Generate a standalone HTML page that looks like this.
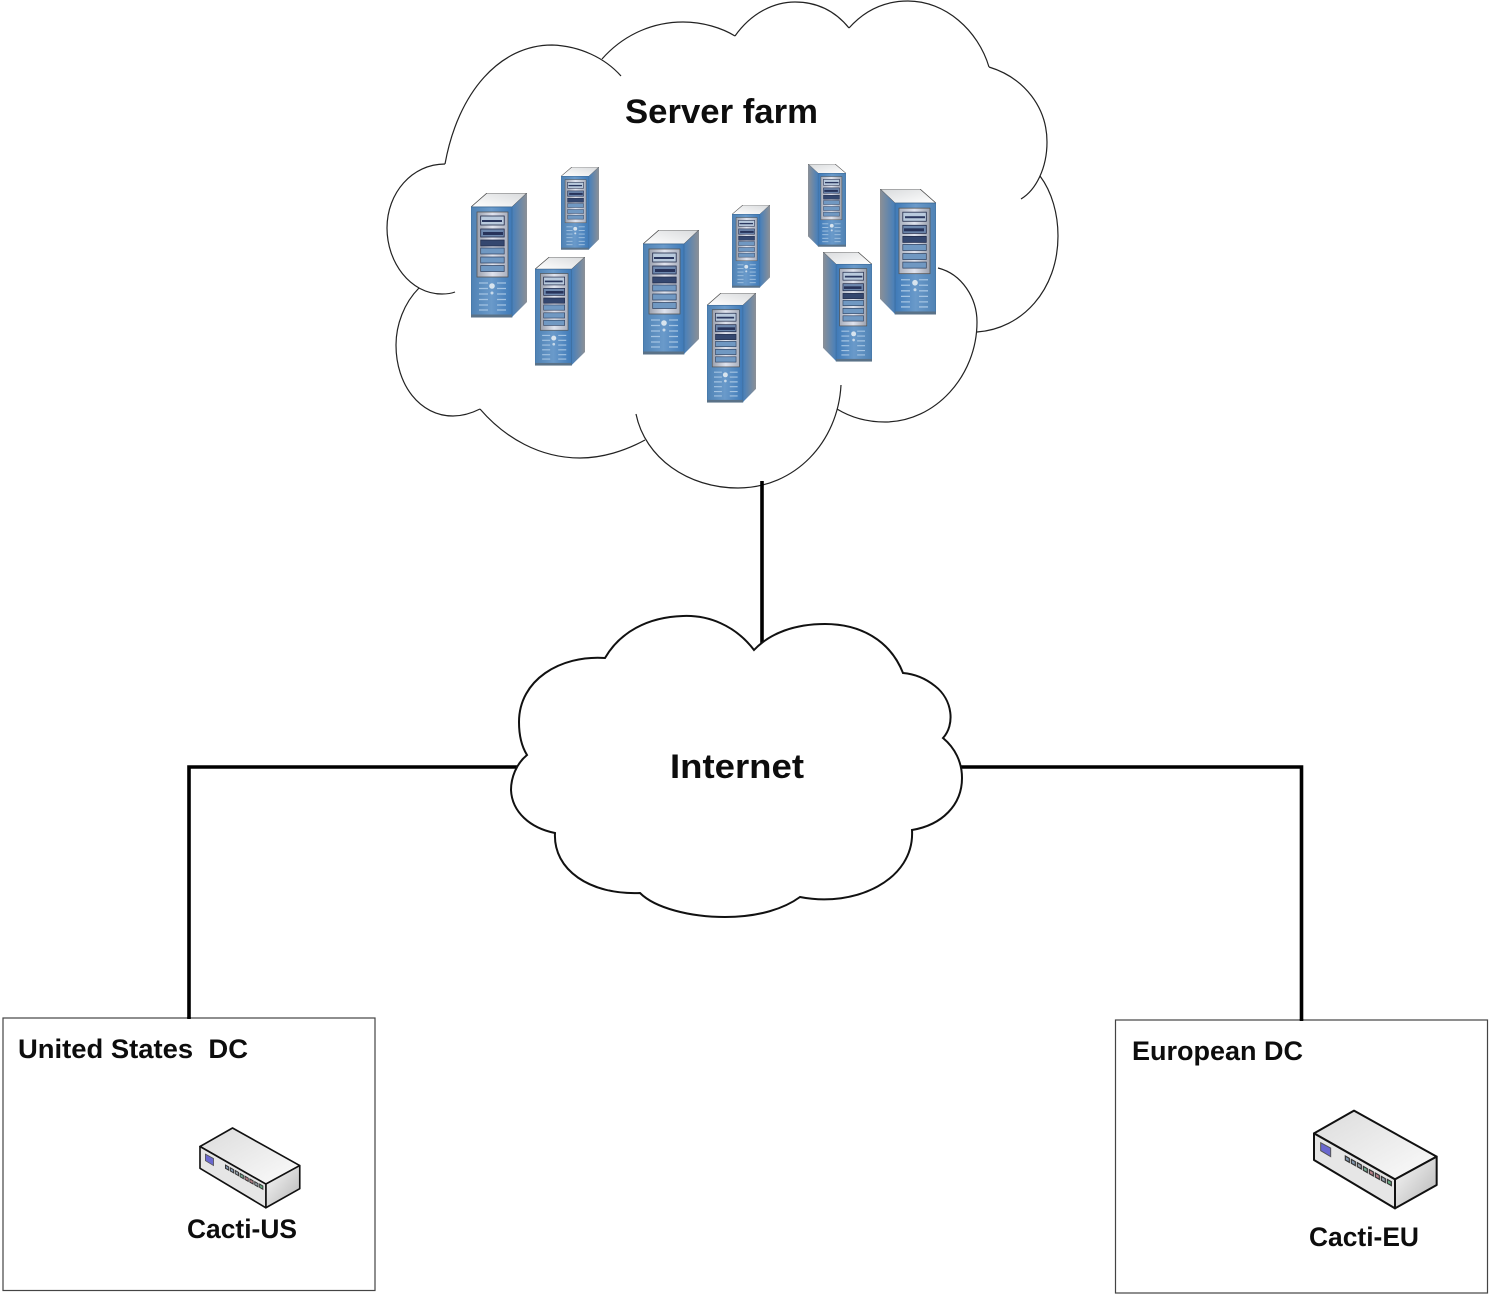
<!DOCTYPE html>
<html>
<head>
<meta charset="utf-8">
<style>
html,body{margin:0;padding:0;background:#fff;width:1489px;height:1294px;overflow:hidden}
svg{display:block}
text{font-family:"Liberation Sans",sans-serif;font-weight:bold;fill:#0d0d0d;white-space:pre}
</style>
</head>
<body>
<svg width="1489" height="1294" viewBox="0 0 1489 1294" xmlns="http://www.w3.org/2000/svg">
<defs>
<linearGradient id="front" x1="0" x2="1" y1="0" y2="0">
<stop offset="0" stop-color="#4f82b4"/><stop offset=".5" stop-color="#6a9aca"/><stop offset="1" stop-color="#3f7ab8"/>
</linearGradient>
<linearGradient id="side" x1="0" x2="1" y1="0" y2="0">
<stop offset="0" stop-color="#467fbb"/><stop offset="1" stop-color="#8c9096"/>
</linearGradient>
<linearGradient id="top" x1="0" x2="1" y1="1" y2="0">
<stop offset="0" stop-color="#ffffff"/><stop offset="1" stop-color="#d8dadc"/>
</linearGradient>
<linearGradient id="panel" x1="0" x2="1" y1="0" y2="0">
<stop offset="0" stop-color="#9aa0ad"/><stop offset=".5" stop-color="#dfe3ee"/><stop offset="1" stop-color="#a9afbd"/>
</linearGradient>
<linearGradient id="swtop" x1="0" x2="1" y1="0" y2="1">
<stop offset="0" stop-color="#dcdcdc"/><stop offset="1" stop-color="#fbfbfb"/>
</linearGradient>
<linearGradient id="swside" x1="0" x2="1" y1="0" y2="1">
<stop offset="0" stop-color="#fafafa"/><stop offset="1" stop-color="#b4b4b4"/>
</linearGradient>
<symbol id="srv" viewBox="0 0 56 125" preserveAspectRatio="none">
<polygon points="0,14 16,0 56,0 41,14" fill="url(#top)" stroke="#4a4a4a" stroke-width=".8"/>
<polygon points="41,14 56,0 56,109 41,124" fill="url(#side)"/>
<rect x="0" y="14" width="41" height="110" fill="url(#front)" stroke="#3d6d9c" stroke-width=".8"/>
<rect x="0" y="121.500" width="41" height="3" fill="#5a7288"/>
<rect x="6" y="19" width="31" height="65" fill="url(#panel)" stroke="#555" stroke-width=".8"/>
<rect x="9.700" y="23" width="23.500" height="9" fill="#b9cadd" stroke="#1d2747" stroke-width=".8"/>
<rect x="11" y="27" width="20" height="2" fill="#2b3860"/>
<rect x="9.700" y="36" width="23.500" height="8" fill="#6e88ae" stroke="#1d2747" stroke-width=".8"/>
<rect x="12" y="39" width="20" height="3" fill="#27335a"/>
<rect x="9.700" y="47" width="23.500" height="6" fill="#34476f" stroke="#1d2747" stroke-width=".7"/>
<rect x="9.700" y="55" width="23.500" height="6" fill="#7098c2" stroke="#2d3f5e" stroke-width=".7"/>
<rect x="9.700" y="64" width="23.500" height="6" fill="#7098c2" stroke="#2d3f5e" stroke-width=".7"/>
<rect x="9.700" y="72.500" width="23.500" height="6" fill="#7098c2" stroke="#2d3f5e" stroke-width=".7"/>
<g stroke="#a3c3e2" stroke-width="1.300">
<path d="M8,90H17M8,95.500H17M8,101H17M8,106.500H17M8,112H17M8,117H17"/>
<path d="M26,90H35M26,95.500H35M26,101H35M26,106.500H35M26,112H35M26,117H35"/>
</g>
<circle cx="21" cy="93" r="2.800" fill="#d8e4ee"/>
<circle cx="21" cy="100" r="1.500" fill="#c7d9e9"/>
</symbol>
<symbol id="srvm" viewBox="0 0 56 125" preserveAspectRatio="none">
<g transform="translate(56,0) scale(-1,1)"><use href="#srv" width="56" height="125"/></g>
</symbol>
<symbol id="sw" viewBox="0 0 450 360" preserveAspectRatio="none">
<polygon points="162,32 42,100 285,238 410,170" fill="url(#swtop)" stroke="#111" stroke-width="6" stroke-linejoin="round"/>
<polygon points="285,238 410,170 410,255 285,325" fill="url(#swside)" stroke="#111" stroke-width="6" stroke-linejoin="round"/>
<polygon points="42,100 285,238 285,325 42,180" fill="#e6e6e6" stroke="#111" stroke-width="6" stroke-linejoin="round"/>
<polygon points="62,128 92,144 92,170 62,152" fill="#6a68cf" stroke="#555" stroke-width="3"/>
<g stroke-width="3.500">
<polygon points="136,168 148,175 148,187 136,180" fill="#7f95ae" stroke="#333"/>
<polygon points="154,178 166,185 166,197 154,190" fill="#7f95ae" stroke="#333"/>
<polygon points="172,188 184,195 184,207 172,200" fill="#8f9ba6" stroke="#333"/>
<polygon points="190,199 202,206 202,218 190,211" fill="#6fa58c" stroke="#333"/>
<polygon points="208,209 220,216 220,228 208,221" fill="#b88088" stroke="#333"/>
<polygon points="226,219 238,226 238,238 226,231" fill="#b88088" stroke="#333"/>
<polygon points="244,229 256,236 256,248 244,241" fill="#8f9ba6" stroke="#333"/>
<polygon points="262,238 274,245 274,257 262,250" fill="#62aa80" stroke="#333"/>
</g>
</symbol>
</defs>

<rect width="1489" height="1294" fill="#fff"/>

<!-- Server farm cloud -->
<g fill="none" stroke="#222" stroke-width="1.200">
<path d="M445,164 C458,92 500,45 552,45 C580,46 605,58 621,76"/>
<path d="M602,59 C625,33 655,22 683,22 C703,22 722,28 735,36"/>
<path d="M735,36 C752,12 775,2 795,2 C818,2 836,12 849,28"/>
<path d="M849,28 C865,10 885,1 908,1 C945,1 978,30 989,67"/>
<path d="M989,67 C1025,78 1047,108 1047,142 C1047,168 1036,190 1021,199"/>
<path d="M1040,176 C1052,192 1058,214 1058,236 C1058,290 1022,329 977,332"/>
<path d="M938,268 C962,274 977,298 977,322 C977,376 935,422 885,422 C866,422 850,417 837,409"/>
<path d="M841,385 C838,442 795,488 738,488 C688,488 645,458 636,414"/>
<path d="M645,440 C625,451 602,458 580,458 C540,458 505,438 480,409"/>
<path d="M480,409 C472,413 463,416 453,416 C420,416 396,385 396,345 C396,325 404,303 419,288"/>
<path d="M455,292 C450,294 446,294 442,294 C410,294 387,262 387,228 C387,193 412,164 445,164"/>
</g>

<!-- Connectors -->
<g fill="none" stroke="#000" stroke-width="3.600">
<path d="M762,481V646"/>
<path d="M518,767H189V1019"/>
<path d="M960,767H1301.500V1021"/>
</g>

<!-- Internet cloud -->
<path d="M754,650 C735,625 708,615 683,616 C648,617 620,632 605,658 C560,655 519,680 519,722 C519,735 522,747 527,755 C516,764 511,778 511,790 C512,812 530,828 555,833 C553,870 590,895 640,893 C655,908 690,917 725,917 C760,917 785,908 800,897 C855,908 915,880 912,830 C942,825 962,805 962,778 C962,762 955,748 943,738 C955,725 953,700 935,686 C925,678 915,674 903,673 C890,640 860,624 825,624 C795,624 770,633 754,650 Z" fill="#fff" stroke="#111" stroke-width="2"/>

<!-- Servers -->
<use href="#srv" x="471" y="193" width="56" height="125"/>
<use href="#srv" x="561" y="167" width="38" height="83"/>
<use href="#srv" x="535" y="257" width="50" height="109"/>
<use href="#srv" x="643" y="230" width="56" height="125"/>
<use href="#srv" x="732" y="205" width="38" height="83"/>
<use href="#srv" x="707" y="293" width="49" height="110"/>
<use href="#srvm" x="808" y="164" width="38" height="83"/>
<use href="#srvm" x="880" y="189" width="56" height="126"/>
<use href="#srvm" x="823" y="252" width="49" height="110"/>

<!-- DC boxes -->
<rect x="3" y="1018" width="372" height="272.500" fill="#fff" stroke="#444" stroke-width="1.200"/>
<rect x="1115.500" y="1020" width="372" height="273" fill="#fff" stroke="#444" stroke-width="1.200"/>
<path d="M189,1017V1019M1301.500,1019V1021" stroke="#000" stroke-width="3.600"/>

<!-- Switches -->
<use href="#sw" x="188.600" y="1119.300" width="122" height="98"/>
<use href="#sw" x="1300" y="1100" width="150" height="120"/>

<!-- Labels -->
<text x="625" y="123" font-size="34" textLength="193" lengthAdjust="spacingAndGlyphs">Server farm</text>
<text x="670" y="778" font-size="34" textLength="134" lengthAdjust="spacingAndGlyphs">Internet</text>
<text x="18" y="1058" font-size="27" textLength="230" lengthAdjust="spacingAndGlyphs" xml:space="preserve">United States  DC</text>
<text x="1132" y="1060" font-size="27" textLength="171" lengthAdjust="spacingAndGlyphs">European DC</text>
<text x="187" y="1238" font-size="27" textLength="110" lengthAdjust="spacingAndGlyphs">Cacti-US</text>
<text x="1309" y="1246" font-size="27" textLength="110" lengthAdjust="spacingAndGlyphs">Cacti-EU</text>
</svg>
</body>
</html>
